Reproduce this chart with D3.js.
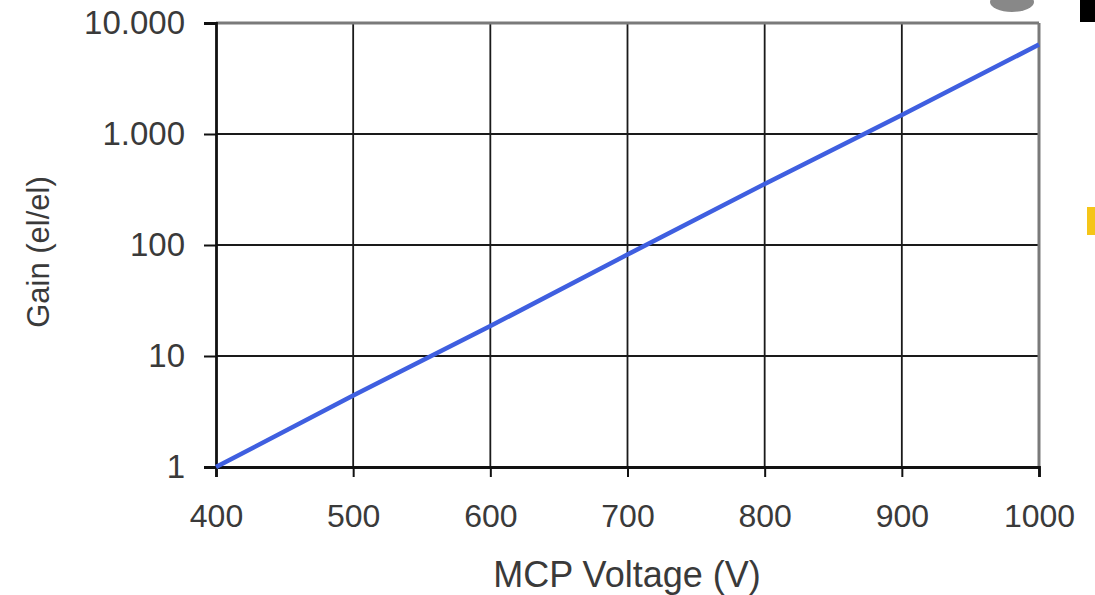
<!DOCTYPE html>
<html>
<head>
<meta charset="utf-8">
<script src="https://cdn.jsdelivr.net/npm/d3@7"></script>
<style>
  body { margin: 0; background: #fff; }
  text { font-family: "Liberation Sans", Arial, sans-serif; }
</style>
</head>
<body>
<div id="chart"></div>
<script>
// data
var voltages = [400, 500, 600, 700, 800, 900, 1000];
var gains = [1, 4.4, 18.6, 82, 355, 1480, 6400];
var xTicks = [400, 500, 600, 700, 800, 900, 1000];
var yTicks = [1, 10, 100, 1000, 10000];
var yTickLabels = ["1", "10", "100", "1.000", "10.000"];

var W = 1095, H = 595;
var margin = {top: 23, right: 56, bottom: 128, left: 216};
var width = W - margin.left - margin.right;
var height = H - margin.top - margin.bottom;

var root = d3.select("#chart")
    .append("svg")
    .attr("width", W)
    .attr("height", H);

var svg = root.append("g")
    .attr("transform", "translate(" + margin.left + "," + margin.top + ")");

var x = d3.scaleLinear().domain([400, 1000]).range([0, width]);
var y = d3.scaleLog().domain([1, 10000]).range([height, 0]);

// grid
svg.append("g")
    .selectAll("line.vg")
    .data(xTicks.slice(1, -1))
    .enter().append("line")
    .attr("x1", function (d) { return x(d); })
    .attr("x2", function (d) { return x(d); })
    .attr("y1", 0).attr("y2", height)
    .attr("stroke", "#1a1a1a").attr("stroke-width", 1.8);

svg.append("g")
    .selectAll("line.hg")
    .data(yTicks.slice(1, -1))
    .enter().append("line")
    .attr("x1", 0).attr("x2", width)
    .attr("y1", function (d) { return y(d); })
    .attr("y2", function (d) { return y(d); })
    .attr("stroke", "#1a1a1a").attr("stroke-width", 1.8);

// top and right frame (gray)
svg.append("line").attr("x1", 0).attr("x2", width).attr("y1", 0).attr("y2", 0)
    .attr("stroke", "#7a7a7a").attr("stroke-width", 3);
svg.append("line").attr("x1", width).attr("x2", width).attr("y1", 0).attr("y2", height)
    .attr("stroke", "#7a7a7a").attr("stroke-width", 3);

// axes
var xAxis = svg.append("g")
    .attr("transform", "translate(0," + height + ")")
    .call(d3.axisBottom(x).tickValues(xTicks).tickSize(10).tickPadding(27).tickFormat(d3.format("d")));
xAxis.select(".domain").attr("stroke", "#111").attr("stroke-width", 2.8);
xAxis.selectAll(".tick line").attr("stroke", "#111").attr("stroke-width", 2);
xAxis.selectAll("text").attr("font-size", 32).attr("fill", "#3a3a3a");

var yAxis = svg.append("g")
    .call(d3.axisLeft(y).tickValues(yTicks).tickSize(12).tickPadding(19)
        .tickFormat(function (d, i) { return yTickLabels[i]; }));
yAxis.select(".domain").attr("stroke", "#111").attr("stroke-width", 2.8);
yAxis.selectAll(".tick line").attr("stroke", "#111").attr("stroke-width", 2);
yAxis.selectAll("text").attr("font-size", 33).attr("fill", "#3a3a3a");

// line
var line = d3.line()
    .x(function (d, i) { return x(voltages[i]); })
    .y(function (d) { return y(d); });

svg.append("path")
    .datum(gains)
    .attr("d", line)
    .attr("fill", "none")
    .attr("stroke", "#3f5fe0")
    .attr("stroke-width", 4.5);

// axis titles
root.append("text")
    .attr("x", 627)
    .attr("y", 587)
    .attr("text-anchor", "middle")
    .attr("font-size", 36)
    .attr("fill", "#3a3a3a")
    .text("MCP Voltage (V)");

root.append("text")
    .attr("transform", "translate(49," + 252 + ") rotate(-90)")
    .attr("text-anchor", "middle")
    .attr("font-size", 31)
    .attr("fill", "#3a3a3a")
    .text("Gain (el/el)");

// bits of the neighbouring page cropped into the picture
root.append("rect").attr("x", 1080).attr("y", 0).attr("width", 15).attr("height", 22).attr("fill", "#000");
root.append("ellipse").attr("cx", 1012).attr("cy", 2).attr("rx", 22).attr("ry", 10).attr("fill", "#888");
root.append("rect").attr("x", 1087).attr("y", 207).attr("width", 8).attr("height", 28).attr("fill", "#f5c518");
</script>
</body>
</html>
